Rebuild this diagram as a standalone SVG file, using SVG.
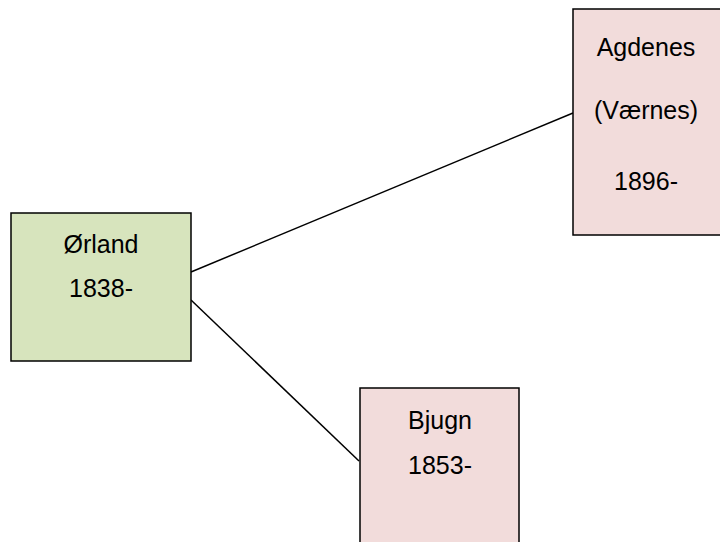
<svg xmlns="http://www.w3.org/2000/svg" width="720" height="542" viewBox="0 0 720 542">
<style>
.box{stroke:#000;stroke-width:1.5}
.g{fill:#d7e4bd}
.p{fill:#f2dcdb}
text{font-family:"Liberation Sans",Arial,sans-serif;font-size:25px;fill:#000;text-anchor:middle}
.c{stroke:#000;stroke-width:1.5;fill:none}
</style>
<rect width="720" height="542" fill="#fff"/>
<g id="connectors">
<line class="c" x1="191" y1="272" x2="573" y2="113"/>
<line class="c" x1="191" y1="300" x2="359" y2="461"/>
</g>
<g id="orland">
<rect class="box g" x="11" y="213" width="180" height="148"/>
<text x="101" y="253">Ørland</text>
<text x="101" y="297">1838-</text>
</g>
<g id="agdenes">
<rect class="box p" x="573" y="9" width="150" height="226"/>
<text x="646" y="56">Agdenes</text>
<text x="646" y="119">(Værnes)</text>
<text x="646" y="190">1896-</text>
</g>
<g id="bjugn">
<rect class="box p" x="360" y="388" width="159" height="160"/>
<text x="440" y="429">Bjugn</text>
<text x="440" y="474">1853-</text>
</g>
</svg>
